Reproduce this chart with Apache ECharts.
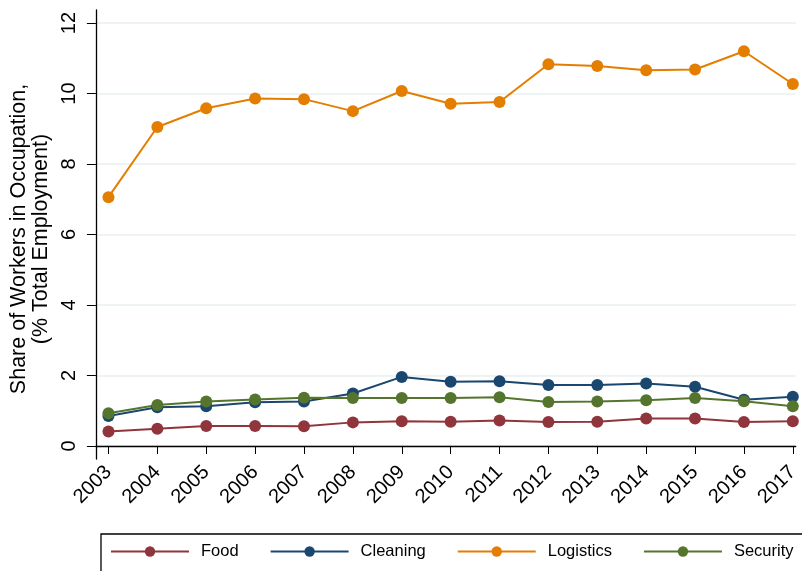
<!DOCTYPE html>
<html>
<head>
<meta charset="utf-8">
<script src="https://cdn.jsdelivr.net/npm/echarts@6/dist/echarts.min.js"></script>
<style>
  html, body { margin: 0; padding: 0; background: #fff; }
  #chart { width: 802px; height: 571px; }
</style>
</head>
<body>
<div id="chart"></div>
<script>
// Occupation shares of total employment, 2003-2017
var years = [2003, 2004, 2005, 2006, 2007, 2008, 2009, 2010, 2011, 2012, 2013, 2014, 2015, 2016, 2017];
var food      = [0.41, 0.49, 0.57, 0.57, 0.56, 0.67, 0.70, 0.69, 0.72, 0.68, 0.69, 0.78, 0.78, 0.68, 0.70];
var cleaning  = [0.85, 1.10, 1.13, 1.24, 1.26, 1.49, 1.96, 1.82, 1.84, 1.73, 1.73, 1.77, 1.68, 1.31, 1.40];
var logistics = [7.06, 9.05, 9.58, 9.86, 9.84, 9.50, 10.07, 9.71, 9.76, 10.83, 10.78, 10.66, 10.68, 11.20, 10.27];
var security  = [0.93, 1.16, 1.26, 1.32, 1.37, 1.36, 1.36, 1.36, 1.38, 1.25, 1.26, 1.30, 1.36, 1.27, 1.13];
var yTicks = [0, 2, 4, 6, 8, 10, 12];

var seriesNames = ['Food', 'Cleaning', 'Logistics', 'Security'];
var seriesValues = [food, cleaning, logistics, security];
var seriesColors = ['#90353b', '#1a476f', '#e37e00', '#55752f'];

var FONT = "'Liberation Sans', Arial, sans-serif";

function pairs(vals) {
  return years.map(function (y, i) { return [y, vals[i]]; });
}

var chart = echarts.init(document.getElementById('chart'), null, { renderer: 'canvas' });

chart.setOption({
  backgroundColor: '#ffffff',
  animation: false,
  textStyle: { fontFamily: FONT, color: '#000' },
  grid: { left: 94, right: 0, top: 10, bottom: 112, containLabel: false },
  xAxis: {
    type: 'value',
    min: 2002.743,
    max: 2017.06,
    axisLine: { show: true, lineStyle: { color: '#000', width: 1.3 } },
    axisTick: { show: true, length: 8, customValues: years, lineStyle: { color: '#000', width: 1 } },
    axisLabel: {
      customValues: years,
      rotate: 45,
      margin: 10,
      fontSize: 20,
      fontFamily: FONT,
      color: '#000',
      formatter: function (v) { return String(Math.round(v)); }
    },
    splitLine: { show: false }
  },
  yAxis: {
    type: 'value',
    min: -0.369,
    max: 12.369,
    name: 'Share of Workers in Occupation,\n(% Total Employment)',
    nameLocation: 'middle',
    nameGap: 31,
    nameRotate: 90,
    nameTextStyle: {
      fontSize: 21.5, fontFamily: FONT, color: '#000', lineHeight: 22,
      padding: [0, 9, 0, 0]
    },
    axisLine: { show: true, lineStyle: { color: '#000', width: 1.3 } },
    axisTick: { show: true, length: 9, customValues: yTicks, lineStyle: { color: '#000', width: 1 } },
    axisLabel: {
      customValues: yTicks,
      rotate: 90,
      margin: 16,
      fontSize: 20,
      fontFamily: FONT,
      color: '#000'
    },
    splitLine: { show: true, lineStyle: { color: '#e8eff1', width: 1.5 } }
  },
  legend: {
    left: 101,
    top: 534,
    width: 700,
    orient: 'horizontal',
    padding: [9, 12, 30, 9],
    borderColor: '#000',
    borderWidth: 1.3,
    itemWidth: 78,
    itemHeight: 13,
    itemGap: 31,
    data: seriesNames,
    textStyle: { fontSize: 16.5, fontFamily: FONT, color: '#000', padding: [0, 0, 0, 7] }
  },
  series: seriesNames.map(function (name, i) {
    return {
      name: name,
      type: 'line',
      data: pairs(seriesValues[i]),
      symbol: 'circle',
      symbolSize: 12,
      showAllSymbol: true,
      clip: false,
      itemStyle: { color: seriesColors[i], borderWidth: 0 },
      lineStyle: { color: seriesColors[i], width: 2 },
      emphasis: { disabled: true }
    };
  })
});
</script>
</body>
</html>
